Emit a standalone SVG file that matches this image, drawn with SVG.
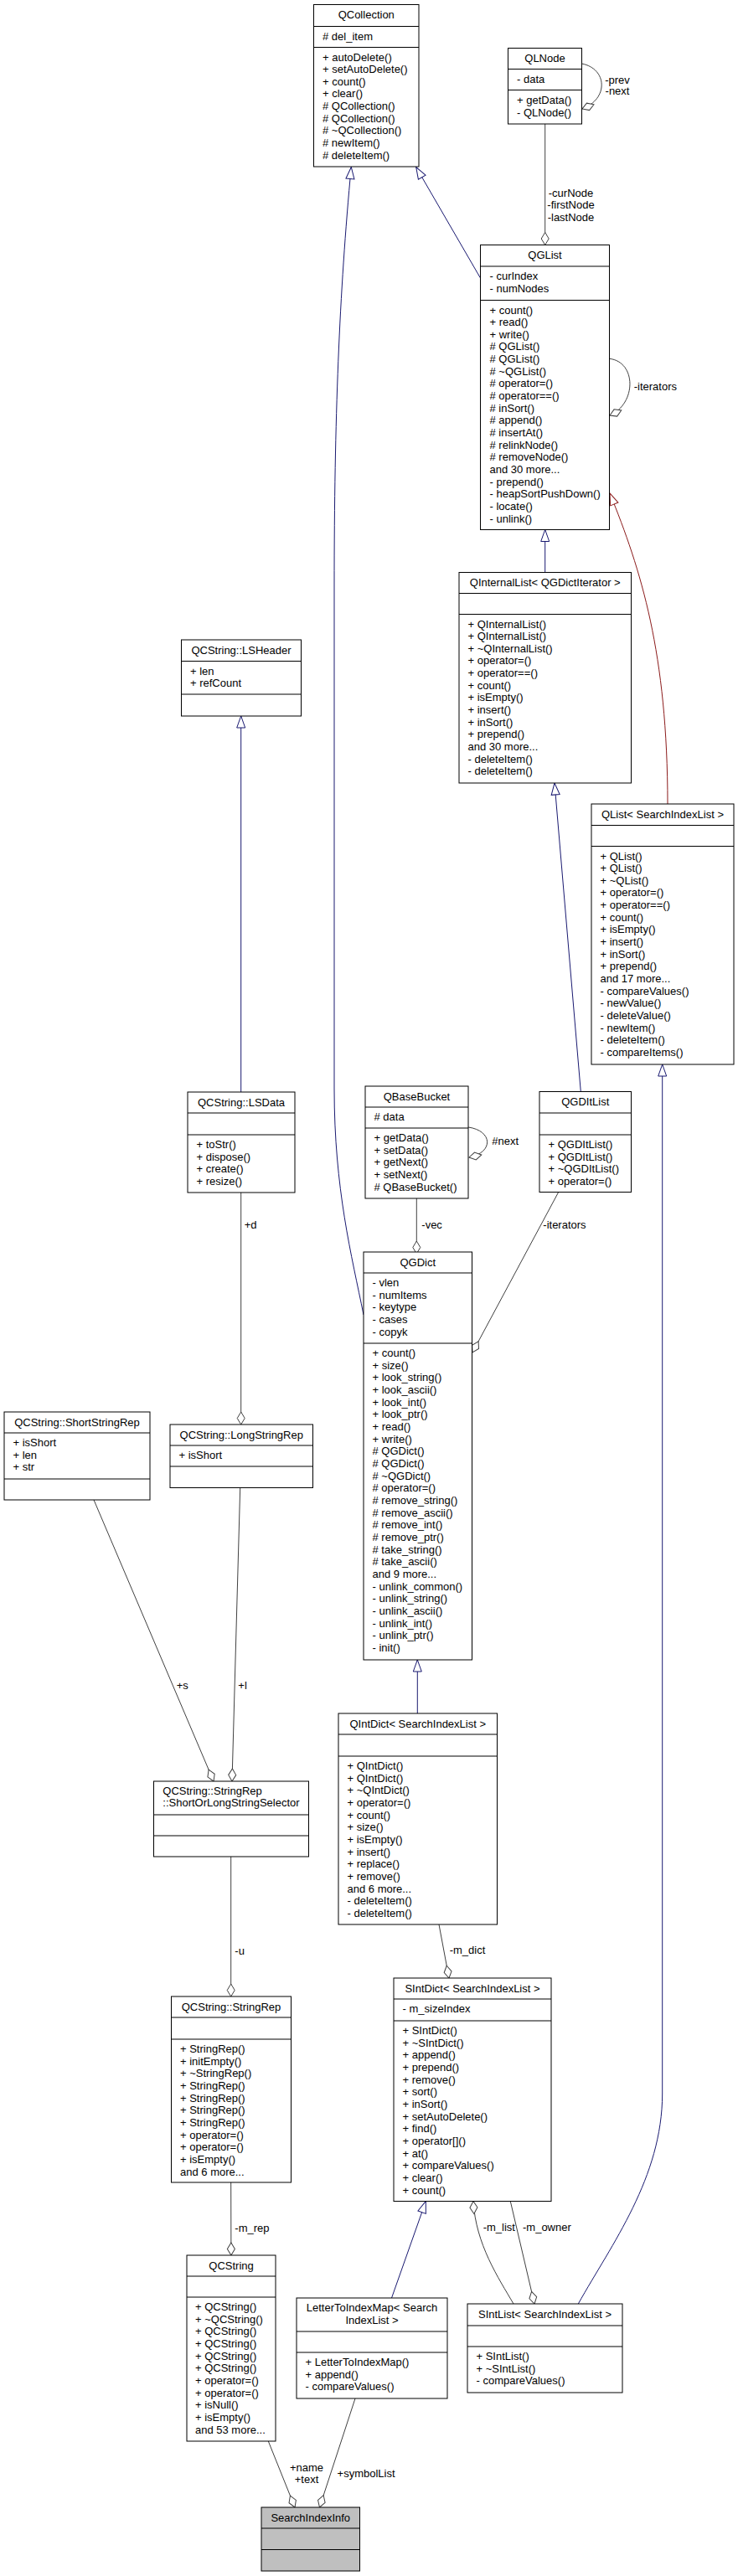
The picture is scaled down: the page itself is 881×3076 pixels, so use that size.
<svg xmlns="http://www.w3.org/2000/svg" width="881" height="3076" viewBox="0 0 881 3076">
<style>
.n rect{fill:#fff;stroke:#000;stroke-width:1}
.n line{stroke:#000;stroke-width:1}
text{font-family:"Liberation Sans",Arial,Helvetica,sans-serif;font-size:13px;fill:#000}
.t{text-anchor:middle}
.m{text-anchor:middle}
.e{fill:none;stroke:#404040;stroke-width:1}
.i{fill:none;stroke:#191970;stroke-width:1;marker-end:url(#tri)}
.r{fill:none;stroke:#8b1a1a;stroke-width:1;marker-end:url(#trir)}
.u{marker-end:url(#dia)}
</style>
<defs>
<marker id="tri" markerUnits="userSpaceOnUse" markerWidth="16" markerHeight="12" refX="15" refY="6" orient="auto" overflow="visible"><path d="M1,1 L15,6 L1,11 Z" fill="#fff" stroke="#191970"/></marker>
<marker id="trir" markerUnits="userSpaceOnUse" markerWidth="16" markerHeight="12" refX="15" refY="6" orient="auto" overflow="visible"><path d="M1,1 L15,6 L1,11 Z" fill="#fff" stroke="#8b1a1a"/></marker>
<marker id="dia" markerUnits="userSpaceOnUse" markerWidth="18" markerHeight="12" refX="16" refY="6" orient="auto" overflow="visible"><path d="M1,6 L8.5,1.5 L16,6 L8.5,10.5 Z" fill="#fff" stroke="#404040"/></marker>
</defs>
<rect width="881" height="3076" fill="#fff"/>

<g id="connectors">
<path class="i" d="M434,1570 C420,1500 399,1420 399,1300 L399,700 C399,500 405,350 419.3,199.5"/>
<path class="i" d="M573.3,331.7 L496.7,199.5"/>
<path class="i" d="M650.7,683.5 L650.7,632.5"/>
<path class="r" d="M797,960 C797,780 765,680 728,589"/>
<path class="i" d="M693.3,1303.5 L662,935"/>
<path class="i" d="M690.3,2751 C730,2680 790.7,2600 790.7,2500 L790.7,1271"/>
<path class="i" d="M287.7,1304 L287.7,855"/>
<path class="i" d="M498.3,2046 L498.3,1982"/>
<path class="i" d="M467.5,2744 L508.3,2628.5"/>

<path class="e u" d="M650.7,148 L650.7,292.5"/>
<path class="e u" d="M694.5,76 C725,82 727,118 695,130"/>
<path class="e u" d="M727.5,428.3 C760,432 760,482 728,496"/>
<path class="e u" d="M666.7,1423.5 L564,1615"/>
<path class="e u" d="M559,1346 C588,1350 590,1376 560,1382"/>
<path class="e u" d="M497.3,1431 L497.3,1497"/>
<path class="e u" d="M287.7,1424 L287.7,1701"/>
<path class="e u" d="M112,1791 L255,2127"/>
<path class="e u" d="M286.7,1776.5 L277,2127"/>
<path class="e u" d="M275.7,2217 L275.7,2384"/>
<path class="e u" d="M275.7,2606 L275.9,2693"/>
<path class="e u" d="M524,2298 L536,2362"/>
<path class="e u" d="M613,2751 C595,2720 568,2680 565,2628.5"/>
<path class="e u" d="M609.3,2628.5 L638,2751"/>
<path class="e u" d="M320.3,2915 L352,2994"/>
<path class="e u" d="M424,2864 L381.5,2994"/>

<text class="m" x="681.5" y="234.6">-curNode</text>
<text class="m" x="681.5" y="248.9">-firstNode</text>
<text class="m" x="681.5" y="263.6">-lastNode</text>
<text class="m" x="737" y="99.6">-prev</text>
<text class="m" x="737" y="112.6">-next</text>
<text x="756.7" y="466.3">-iterators</text>
<text x="648.3" y="1467.3">-iterators</text>
<text x="587.3" y="1367.3">#next</text>
<text x="503.3" y="1467.3">-vec</text>
<text x="291.7" y="1467.3">+d</text>
<text x="210.7" y="2017.3">+s</text>
<text x="284.3" y="2017.3">+l</text>
<text x="280.3" y="2333.6">-u</text>
<text x="280.3" y="2664.6">-m_rep</text>
<text x="536.7" y="2332.9">-m_dict</text>
<text x="576.7" y="2664">-m_list</text>
<text x="624" y="2664">-m_owner</text>
<text class="m" x="366" y="2951.3">+name</text>
<text class="m" x="366" y="2965.3">+text</text>
<text x="402.6" y="2958">+symbolList</text>
</g>

<g id="QCollection" class="n">
<rect x="374.5" y="5.5" width="125.5" height="193.5"/>
<line x1="374.5" y1="31.5" x2="500" y2="31.5"/><line x1="374.5" y1="56.5" x2="500" y2="56.5"/>
<text class="t" x="437.25" y="22.3">QCollection</text>
<text x="385" y="47.5"># del_item</text>
<text x="385" y="72.5"><tspan x="385">+ autoDelete()</tspan><tspan x="385" dy="14.66">+ setAutoDelete()</tspan><tspan x="385" dy="14.66">+ count()</tspan><tspan x="385" dy="14.66">+ clear()</tspan><tspan x="385" dy="14.66"># QCollection()</tspan><tspan x="385" dy="14.66"># QCollection()</tspan><tspan x="385" dy="14.66"># ~QCollection()</tspan><tspan x="385" dy="14.66"># newItem()</tspan><tspan x="385" dy="14.66"># deleteItem()</tspan></text>
</g>

<g id="QLNode" class="n">
<rect x="606.5" y="57.5" width="88" height="90.5"/>
<line x1="606.5" y1="82.5" x2="694.5" y2="82.5"/><line x1="606.5" y1="107.5" x2="694.5" y2="107.5"/>
<text class="t" x="650.5" y="74.3">QLNode</text>
<text x="617" y="99">- data</text>
<text x="617" y="124"><tspan x="617">+ getData()</tspan><tspan x="617" dy="14.66">- QLNode()</tspan></text>
</g>

<g id="QGList" class="n">
<rect x="573.5" y="292.5" width="154" height="340"/>
<line x1="573.5" y1="318" x2="727.5" y2="318"/><line x1="573.5" y1="358.5" x2="727.5" y2="358.5"/>
<text class="t" x="650.5" y="309.3">QGList</text>
<text x="584.5" y="334"><tspan x="584.5">- curIndex</tspan><tspan x="584.5" dy="14.66">- numNodes</tspan></text>
<text x="584.5" y="374.5"><tspan x="584.5">+ count()</tspan><tspan x="584.5" dy="14.66">+ read()</tspan><tspan x="584.5" dy="14.66">+ write()</tspan><tspan x="584.5" dy="14.66"># QGList()</tspan><tspan x="584.5" dy="14.66"># QGList()</tspan><tspan x="584.5" dy="14.66"># ~QGList()</tspan><tspan x="584.5" dy="14.66"># operator=()</tspan><tspan x="584.5" dy="14.66"># operator==()</tspan><tspan x="584.5" dy="14.66"># inSort()</tspan><tspan x="584.5" dy="14.66"># append()</tspan><tspan x="584.5" dy="14.66"># insertAt()</tspan><tspan x="584.5" dy="14.66"># relinkNode()</tspan><tspan x="584.5" dy="14.66"># removeNode()</tspan><tspan x="584.5" dy="14.66">and 30 more...</tspan><tspan x="584.5" dy="14.66">- prepend()</tspan><tspan x="584.5" dy="14.66">- heapSortPushDown()</tspan><tspan x="584.5" dy="14.66">- locate()</tspan><tspan x="584.5" dy="14.66">- unlink()</tspan></text>
</g>

<g id="QInternalList" class="n">
<rect x="548" y="683.5" width="205.5" height="251.5"/>
<line x1="548" y1="708.5" x2="753.5" y2="708.5"/><line x1="548" y1="733.5" x2="753.5" y2="733.5"/>
<text class="t" x="650.75" y="700.3">QInternalList&lt; QGDictIterator &gt;</text>
<text x="558.5" y="749.5"><tspan x="558.5">+ QInternalList()</tspan><tspan x="558.5" dy="14.66">+ QInternalList()</tspan><tspan x="558.5" dy="14.66">+ ~QInternalList()</tspan><tspan x="558.5" dy="14.66">+ operator=()</tspan><tspan x="558.5" dy="14.66">+ operator==()</tspan><tspan x="558.5" dy="14.66">+ count()</tspan><tspan x="558.5" dy="14.66">+ isEmpty()</tspan><tspan x="558.5" dy="14.66">+ insert()</tspan><tspan x="558.5" dy="14.66">+ inSort()</tspan><tspan x="558.5" dy="14.66">+ prepend()</tspan><tspan x="558.5" dy="14.66">and 30 more...</tspan><tspan x="558.5" dy="14.66">- deleteItem()</tspan><tspan x="558.5" dy="14.66">- deleteItem()</tspan></text>
</g>

<g id="QList" class="n">
<rect x="706" y="960" width="170" height="311"/>
<line x1="706" y1="985.5" x2="876" y2="985.5"/><line x1="706" y1="1010.5" x2="876" y2="1010.5"/>
<text class="t" x="791" y="976.8">QList&lt; SearchIndexList &gt;</text>
<text x="716.5" y="1026.5"><tspan x="716.5">+ QList()</tspan><tspan x="716.5" dy="14.66">+ QList()</tspan><tspan x="716.5" dy="14.66">+ ~QList()</tspan><tspan x="716.5" dy="14.66">+ operator=()</tspan><tspan x="716.5" dy="14.66">+ operator==()</tspan><tspan x="716.5" dy="14.66">+ count()</tspan><tspan x="716.5" dy="14.66">+ isEmpty()</tspan><tspan x="716.5" dy="14.66">+ insert()</tspan><tspan x="716.5" dy="14.66">+ inSort()</tspan><tspan x="716.5" dy="14.66">+ prepend()</tspan><tspan x="716.5" dy="14.66">and 17 more...</tspan><tspan x="716.5" dy="14.66">- compareValues()</tspan><tspan x="716.5" dy="14.66">- newValue()</tspan><tspan x="716.5" dy="14.66">- deleteValue()</tspan><tspan x="716.5" dy="14.66">- newItem()</tspan><tspan x="716.5" dy="14.66">- deleteItem()</tspan><tspan x="716.5" dy="14.66">- compareItems()</tspan></text>
</g>

<g id="QGDItList" class="n">
<rect x="644" y="1303.5" width="109.5" height="120"/>
<line x1="644" y1="1329" x2="753.5" y2="1329"/><line x1="644" y1="1355" x2="753.5" y2="1355"/>
<text class="t" x="698.75" y="1320.3">QGDItList</text>
<text x="654.5" y="1371"><tspan x="654.5">+ QGDItList()</tspan><tspan x="654.5" dy="14.66">+ QGDItList()</tspan><tspan x="654.5" dy="14.66">+ ~QGDItList()</tspan><tspan x="654.5" dy="14.66">+ operator=()</tspan></text>
</g>

<g id="LSHeader" class="n">
<rect x="216.5" y="764" width="143" height="91"/>
<line x1="216.5" y1="789.5" x2="359.5" y2="789.5"/><line x1="216.5" y1="829" x2="359.5" y2="829"/>
<text class="t" x="288" y="780.8">QCString::LSHeader</text>
<text x="227" y="805.5"><tspan x="227">+ len</tspan><tspan x="227" dy="14.66">+ refCount</tspan></text>
</g>

<g id="LSData" class="n">
<rect x="224" y="1304" width="128" height="120"/>
<line x1="224" y1="1329" x2="352" y2="1329"/><line x1="224" y1="1355" x2="352" y2="1355"/>
<text class="t" x="288" y="1320.8">QCString::LSData</text>
<text x="234.5" y="1371"><tspan x="234.5">+ toStr()</tspan><tspan x="234.5" dy="14.66">+ dispose()</tspan><tspan x="234.5" dy="14.66">+ create()</tspan><tspan x="234.5" dy="14.66">+ resize()</tspan></text>
</g>

<g id="QBaseBucket" class="n">
<rect x="436" y="1297" width="123" height="134"/>
<line x1="436" y1="1322" x2="559" y2="1322"/><line x1="436" y1="1347" x2="559" y2="1347"/>
<text class="t" x="497.5" y="1313.8">QBaseBucket</text>
<text x="446.5" y="1338"># data</text>
<text x="446.5" y="1363"><tspan x="446.5">+ getData()</tspan><tspan x="446.5" dy="14.66">+ setData()</tspan><tspan x="446.5" dy="14.66">+ getNext()</tspan><tspan x="446.5" dy="14.66">+ setNext()</tspan><tspan x="446.5" dy="14.66"># QBaseBucket()</tspan></text>
</g>

<g id="QGDict" class="n">
<rect x="434" y="1495" width="129.5" height="487"/>
<line x1="434" y1="1520" x2="563.5" y2="1520"/><line x1="434" y1="1604" x2="563.5" y2="1604"/>
<text class="t" x="498.75" y="1511.8">QGDict</text>
<text x="444.5" y="1536"><tspan x="444.5">- vlen</tspan><tspan x="444.5" dy="14.66">- numItems</tspan><tspan x="444.5" dy="14.66">- keytype</tspan><tspan x="444.5" dy="14.66">- cases</tspan><tspan x="444.5" dy="14.66">- copyk</tspan></text>
<text x="444.5" y="1620"><tspan x="444.5">+ count()</tspan><tspan x="444.5" dy="14.66">+ size()</tspan><tspan x="444.5" dy="14.66">+ look_string()</tspan><tspan x="444.5" dy="14.66">+ look_ascii()</tspan><tspan x="444.5" dy="14.66">+ look_int()</tspan><tspan x="444.5" dy="14.66">+ look_ptr()</tspan><tspan x="444.5" dy="14.66">+ read()</tspan><tspan x="444.5" dy="14.66">+ write()</tspan><tspan x="444.5" dy="14.66"># QGDict()</tspan><tspan x="444.5" dy="14.66"># QGDict()</tspan><tspan x="444.5" dy="14.66"># ~QGDict()</tspan><tspan x="444.5" dy="14.66"># operator=()</tspan><tspan x="444.5" dy="14.66"># remove_string()</tspan><tspan x="444.5" dy="14.66"># remove_ascii()</tspan><tspan x="444.5" dy="14.66"># remove_int()</tspan><tspan x="444.5" dy="14.66"># remove_ptr()</tspan><tspan x="444.5" dy="14.66"># take_string()</tspan><tspan x="444.5" dy="14.66"># take_ascii()</tspan><tspan x="444.5" dy="14.66">and 9 more...</tspan><tspan x="444.5" dy="14.66">- unlink_common()</tspan><tspan x="444.5" dy="14.66">- unlink_string()</tspan><tspan x="444.5" dy="14.66">- unlink_ascii()</tspan><tspan x="444.5" dy="14.66">- unlink_int()</tspan><tspan x="444.5" dy="14.66">- unlink_ptr()</tspan><tspan x="444.5" dy="14.66">- init()</tspan></text>
</g>

<g id="ShortStringRep" class="n">
<rect x="5" y="1686" width="174" height="105"/>
<line x1="5" y1="1711" x2="179" y2="1711"/><line x1="5" y1="1766" x2="179" y2="1766"/>
<text class="t" x="92" y="1702.8">QCString::ShortStringRep</text>
<text x="15.5" y="1727"><tspan x="15.5">+ isShort</tspan><tspan x="15.5" dy="14.66">+ len</tspan><tspan x="15.5" dy="14.66">+ str</tspan></text>
</g>

<g id="LongStringRep" class="n">
<rect x="203" y="1701" width="170.5" height="75.5"/>
<line x1="203" y1="1726" x2="373.5" y2="1726"/><line x1="203" y1="1751" x2="373.5" y2="1751"/>
<text class="t" x="288.25" y="1717.8">QCString::LongStringRep</text>
<text x="213.5" y="1742">+ isShort</text>
</g>

<g id="ShortOrLongStringSelector" class="n">
<rect x="183.5" y="2127" width="185" height="90"/>
<line x1="183.5" y1="2167" x2="368.5" y2="2167"/><line x1="183.5" y1="2192" x2="368.5" y2="2192"/>
<text x="194.3" y="2143"><tspan x="194.3">QCString::StringRep</tspan><tspan x="194.3" dy="14">::ShortOrLongStringSelector</tspan></text>
</g>

<g id="QIntDict" class="n">
<rect x="404" y="2046" width="189.5" height="252"/>
<line x1="404" y1="2071" x2="593.5" y2="2071"/><line x1="404" y1="2097" x2="593.5" y2="2097"/>
<text class="t" x="498.75" y="2062.8">QIntDict&lt; SearchIndexList &gt;</text>
<text x="414.5" y="2113"><tspan x="414.5">+ QIntDict()</tspan><tspan x="414.5" dy="14.66">+ QIntDict()</tspan><tspan x="414.5" dy="14.66">+ ~QIntDict()</tspan><tspan x="414.5" dy="14.66">+ operator=()</tspan><tspan x="414.5" dy="14.66">+ count()</tspan><tspan x="414.5" dy="14.66">+ size()</tspan><tspan x="414.5" dy="14.66">+ isEmpty()</tspan><tspan x="414.5" dy="14.66">+ insert()</tspan><tspan x="414.5" dy="14.66">+ replace()</tspan><tspan x="414.5" dy="14.66">+ remove()</tspan><tspan x="414.5" dy="14.66">and 6 more...</tspan><tspan x="414.5" dy="14.66">- deleteItem()</tspan><tspan x="414.5" dy="14.66">- deleteItem()</tspan></text>
</g>

<g id="SIntDict" class="n">
<rect x="470" y="2362" width="188" height="266.5"/>
<line x1="470" y1="2387" x2="658" y2="2387"/><line x1="470" y1="2413" x2="658" y2="2413"/>
<text class="t" x="564" y="2378.8">SIntDict&lt; SearchIndexList &gt;</text>
<text x="480.5" y="2403">- m_sizeIndex</text>
<text x="480.5" y="2429"><tspan x="480.5">+ SIntDict()</tspan><tspan x="480.5" dy="14.66">+ ~SIntDict()</tspan><tspan x="480.5" dy="14.66">+ append()</tspan><tspan x="480.5" dy="14.66">+ prepend()</tspan><tspan x="480.5" dy="14.66">+ remove()</tspan><tspan x="480.5" dy="14.66">+ sort()</tspan><tspan x="480.5" dy="14.66">+ inSort()</tspan><tspan x="480.5" dy="14.66">+ setAutoDelete()</tspan><tspan x="480.5" dy="14.66">+ find()</tspan><tspan x="480.5" dy="14.66">+ operator[]()</tspan><tspan x="480.5" dy="14.66">+ at()</tspan><tspan x="480.5" dy="14.66">+ compareValues()</tspan><tspan x="480.5" dy="14.66">+ clear()</tspan><tspan x="480.5" dy="14.66">+ count()</tspan></text>
</g>

<g id="StringRep" class="n">
<rect x="204.5" y="2384" width="143" height="222"/>
<line x1="204.5" y1="2409" x2="347.5" y2="2409"/><line x1="204.5" y1="2435" x2="347.5" y2="2435"/>
<text class="t" x="276" y="2400.8">QCString::StringRep</text>
<text x="215" y="2451"><tspan x="215">+ StringRep()</tspan><tspan x="215" dy="14.66">+ initEmpty()</tspan><tspan x="215" dy="14.66">+ ~StringRep()</tspan><tspan x="215" dy="14.66">+ StringRep()</tspan><tspan x="215" dy="14.66">+ StringRep()</tspan><tspan x="215" dy="14.66">+ StringRep()</tspan><tspan x="215" dy="14.66">+ StringRep()</tspan><tspan x="215" dy="14.66">+ operator=()</tspan><tspan x="215" dy="14.66">+ operator=()</tspan><tspan x="215" dy="14.66">+ isEmpty()</tspan><tspan x="215" dy="14.66">and 6 more...</tspan></text>
</g>

<g id="QCString" class="n">
<rect x="223" y="2693" width="106" height="222"/>
<line x1="223" y1="2718" x2="329" y2="2718"/><line x1="223" y1="2743" x2="329" y2="2743"/>
<text class="t" x="276" y="2709.8">QCString</text>
<text x="233" y="2759"><tspan x="233">+ QCString()</tspan><tspan x="233" dy="14.66">+ ~QCString()</tspan><tspan x="233" dy="14.66">+ QCString()</tspan><tspan x="233" dy="14.66">+ QCString()</tspan><tspan x="233" dy="14.66">+ QCString()</tspan><tspan x="233" dy="14.66">+ QCString()</tspan><tspan x="233" dy="14.66">+ operator=()</tspan><tspan x="233" dy="14.66">+ operator=()</tspan><tspan x="233" dy="14.66">+ isNull()</tspan><tspan x="233" dy="14.66">+ isEmpty()</tspan><tspan x="233" dy="14.66">and 53 more...</tspan></text>
</g>

<g id="LetterToIndexMap" class="n">
<rect x="354" y="2744" width="180" height="120"/>
<line x1="354" y1="2784" x2="534" y2="2784"/><line x1="354" y1="2809" x2="534" y2="2809"/>
<text class="t" x="444" y="2760.3"><tspan x="444">LetterToIndexMap&lt; Search</tspan><tspan x="444" dy="14.3">IndexList &gt;</tspan></text>
<text x="364.5" y="2825"><tspan x="364.5">+ LetterToIndexMap()</tspan><tspan x="364.5" dy="14.66">+ append()</tspan><tspan x="364.5" dy="14.66">- compareValues()</tspan></text>
</g>

<g id="SIntList" class="n">
<rect x="558" y="2751" width="185" height="106"/>
<line x1="558" y1="2777" x2="743" y2="2777"/><line x1="558" y1="2802" x2="743" y2="2802"/>
<text class="t" x="650.5" y="2767.8">SIntList&lt; SearchIndexList &gt;</text>
<text x="568.5" y="2818"><tspan x="568.5">+ SIntList()</tspan><tspan x="568.5" dy="14.66">+ ~SIntList()</tspan><tspan x="568.5" dy="14.66">- compareValues()</tspan></text>
</g>

<g id="SearchIndexInfo" class="n">
<rect x="312" y="2994" width="117.5" height="76" style="fill:#bfbfbf"/>
<line x1="312" y1="3019" x2="429.5" y2="3019"/><line x1="312" y1="3044.5" x2="429.5" y2="3044.5"/>
<text class="t" x="370.75" y="3010.8">SearchIndexInfo</text>
</g>
</svg>
